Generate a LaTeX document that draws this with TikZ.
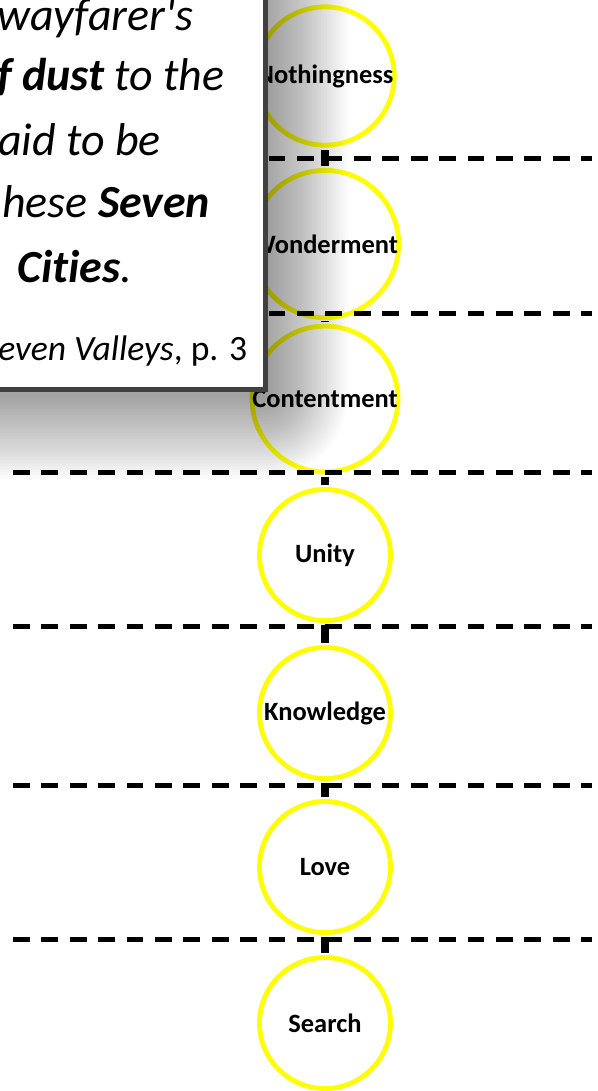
\documentclass[tikz,border=0pt]{standalone}
\usepackage{fontspec}
\setmainfont{Carlito}[Ligatures={NoCommon,TeXOff}]
\usepackage{tikz}

\definecolor{valleyyellow}{HTML}{FFFF00}
\definecolor{boxgray}{HTML}{404040}

\tikzset{
	valley/.style={circle, draw=valleyyellow, line width=0.12cm, fill=white,
		minimum size=3.275cm, inner sep=0pt, font=\fontsize{18.8}{21}\selectfont\bfseries},
	link/.style={line width=0.2cm, shorten <=0.06cm, shorten >=0.06cm},
	stageline/.style={line width=0.125cm, dash pattern=on 0.42cm off 0.29cm},
	quoteline/.style={anchor=base west, inner sep=0pt, font=\fontsize{32.7}{40}\selectfont\itshape},
}

\begin{document}
\begin{tikzpicture}[x=0.025cm, y=-0.025cm]
		\useasboundingbox (0,0) rectangle (598,1091);

		\coordinate (d1w) at (13, 158);
		\coordinate (d1e) at (592,158);
		\coordinate (d2w) at (13, 313);
		\coordinate (d2e) at (592,313);
		\coordinate (d3w) at (13, 472);
		\coordinate (d3e) at (592,472);
		\coordinate (d4w) at (13, 626);
		\coordinate (d4e) at (592,626);
		\coordinate (d5w) at (13, 785);
		\coordinate (d5e) at (592,785);
		\coordinate (d6w) at (13, 939);
		\coordinate (d6e) at (592,939);

		\node [valley] (nothingness) at (325,76)   {Nothingness};
		\node [valley] (wonderment)  at (325,244)  {Wonderment};
		\node [valley] (contentment) at (325,399)  {Contentment};
		\node [valley] (unity)       at (325,555)  {Unity};
		\node [valley] (knowledge)   at (325,713)  {Knowledge};
		\node [valley] (love)        at (325,867)  {Love};
		\node [valley] (search)      at (325,1023) {Search};

		\draw [link] (nothingness) -- (wonderment);
		\draw [link] (wonderment)  -- (contentment);
		\draw [link] (contentment) -- (unity);
		\draw [link] (unity)       -- (knowledge);
		\draw [link] (knowledge)   -- (love);
		\draw [link] (love)        -- (search);

		\draw [stageline] (d1w) -- (d1e);
		\draw [stageline] (d2w) -- (d2e);
		\draw [stageline] (d3w) -- (d3e);
		\draw [stageline] (d4w) -- (d4e);
		\draw [stageline] (d5w) -- (d5e);
		\draw [stageline] (d6w) -- (d6e);

		% soft shadow of the quote box
		\foreach \k in {1,...,28}
			\fill [black, opacity=0.017, rounded corners=\k*0.75mm]
				(-100,-100) rectangle (264+\k*3, 394+\k*3);

		\draw [draw=boxgray, line width=0.125cm, fill=white] (-20,-20) rectangle (265.5,389.5);

		\node [quoteline] (l1) at (-3,31)  {wayfarer's};
		\node [quoteline] (l2) at (-3,91)  {\textbf{f dust} to the};
		\node [quoteline] (l3) at (-2,155) {aid to be};
		\node [quoteline] (l4) at (2,217)  {hese \textbf{Seven}};
		\node [quoteline] (l5) at (17,282) {\textbf{Cities}.};
		\node [quoteline, font=\fontsize{25.3}{30}\selectfont\itshape] (l6) at (-2,360)
			{even Valleys\upshape, p. 3};
	\end{tikzpicture}
\end{document}
